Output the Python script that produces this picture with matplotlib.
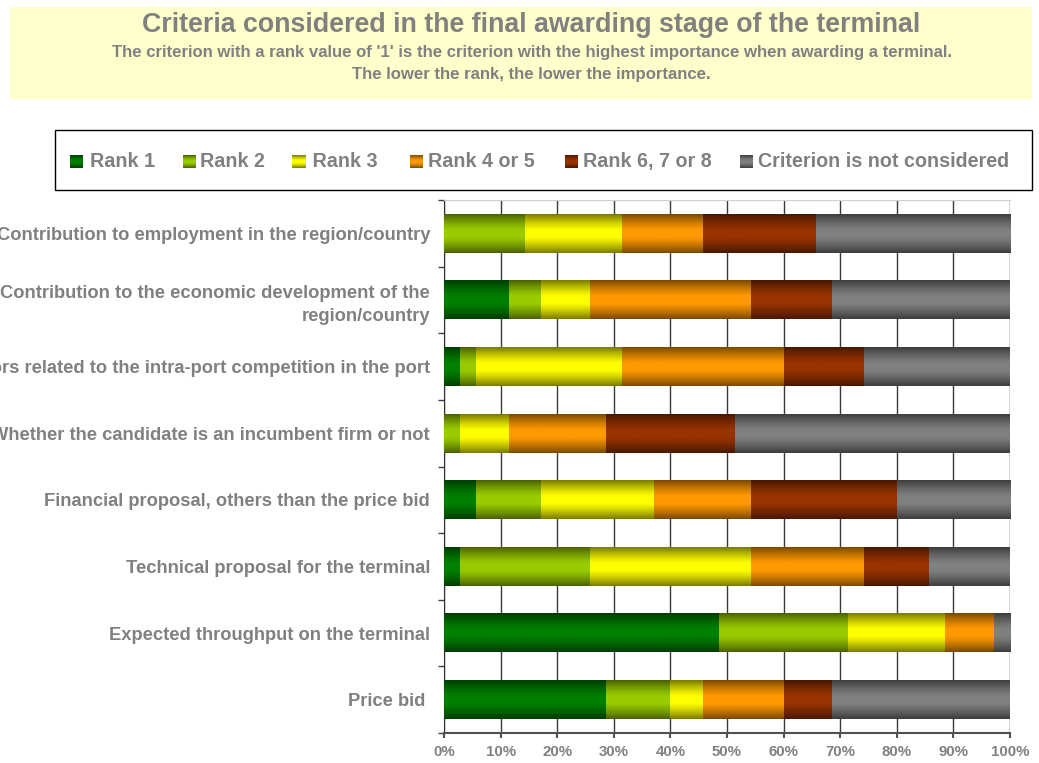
import numpy as np
import matplotlib
matplotlib.use("Agg")
import matplotlib.pyplot as plt
from matplotlib.patches import Rectangle
from matplotlib.colors import to_rgb

# Survey answers (number of respondents per rank class, 35 respondents)
criteria = [
    "Contribution to employment in the region/country",
    "Contribution to the economic development of the\nregion/country",
    "Factors related to the intra-port competition in the port",
    "Whether the candidate is an incumbent firm or not",
    "Financial proposal, others than the price bid",
    "Technical proposal for the terminal",
    "Expected throughput on the terminal",
    "Price bid ",
]
rank_1 = [0, 4, 1, 0, 2, 1, 17, 10]
rank_2 = [5, 2, 1, 1, 4, 8, 8, 4]
rank_3 = [6, 3, 9, 3, 7, 10, 6, 2]
rank_4_5 = [5, 10, 10, 6, 6, 7, 3, 5]
rank_6_8 = [7, 5, 5, 8, 9, 4, 0, 3]
not_considered = [12, 11, 9, 17, 7, 5, 1, 11]

series_names = ["Rank 1", "Rank 2", " Rank 3", "Rank 4 or 5", "Rank 6, 7 or 8",
                "Criterion is not considered"]
series_values = [rank_1, rank_2, rank_3, rank_4_5, rank_6_8, not_considered]
series_colors = ["#008000", "#99CC00", "#FFFF00", "#FF9900", "#993300", "#808080"]
x_ticks = np.arange(0, 101, 10)
x_tick_labels = [f"{v}%" for v in x_ticks]

TEXT = "#808080"
plt.rcParams["font.family"] = ["Liberation Sans", "DejaVu Sans"]
plt.rcParams["font.weight"] = "bold"

W, H = 1039, 763
fig = plt.figure(figsize=(W / 100, H / 100), dpi=100)
fig.patch.set_facecolor("white")


def fx(px):
    return px / W


def fy(py):
    return 1 - py / H


# Title banner
fig.patches.append(Rectangle((fx(10), fy(99)), fx(1022), 92 / H,
                             transform=fig.transFigure, facecolor="#FFFFCC",
                             edgecolor="none", zorder=-2))
fig.text(fx(531), fy(25), "Criteria considered in the final awarding stage of the terminal",
         ha="center", va="center", fontsize=19.3, color=TEXT, fontweight="bold")
fig.text(fx(532), fy(52),
         "The criterion with a rank value of '1' is the criterion with the highest importance when awarding a terminal.",
         ha="center", va="center", fontsize=12.05, color=TEXT, fontweight="bold")
fig.text(fx(531), fy(74), "The lower the rank, the lower the importance.",
         ha="center", va="center", fontsize=12.05, color=TEXT, fontweight="bold")

ax = fig.add_axes([fx(444), fy(733), 566 / W, 533 / H])

values = np.array(series_values, dtype=float)
pct = values / values.sum(axis=0) * 100
n = len(criteria)
y = np.arange(n)
bar_h = 0.58

# Vertical shading profile of a bar: dark at the edges, bright in the middle
t = np.linspace(-1, 1, 64)
shade = 1 - 0.52 * np.clip((np.abs(t) - 0.15) / 0.85, 0, 1) ** 1.3


def shaded(col):
    rgb = np.array(to_rgb(col))
    return shade[:, None, None] * rgb[None, None, :]


left = np.zeros(n)
for vals, col in zip(pct, series_colors):
    img = shaded(col)
    for i in range(n):
        if vals[i] <= 0:
            continue
        ax.imshow(img, extent=(left[i], left[i] + vals[i], y[i] + bar_h / 2, y[i] - bar_h / 2),
                  aspect="auto", interpolation="bilinear", zorder=3)
    left += vals

ax.set_xlim(0, 100)
ax.set_ylim(n - 0.5, -0.5)
ax.set_xticks(x_ticks)
ax.set_xticklabels(x_tick_labels)
ax.set_yticks(y)
ax.set_yticklabels(criteria, linespacing=1.45)
ax.set_yticks(np.arange(n + 1) - 0.5, minor=True)
ax.tick_params(axis="y", which="major", length=0, pad=10, labelsize=13.2, labelcolor=TEXT)
ax.tick_params(axis="y", which="minor", length=4, width=1, color="#404040", direction="out")
ax.tick_params(axis="x", which="major", length=3.5, width=1.5, color="#505050", pad=5,
               labelsize=10.8, labelcolor=TEXT)
for lab in ax.get_xticklabels() + ax.get_yticklabels():
    lab.set_fontweight("bold")

ax.grid(axis="x", color="#3a3a3a", linewidth=1, zorder=1)
ax.set_axisbelow(True)
ax.spines["right"].set_visible(False)
ax.spines["top"].set_color("#d0d0d0")
ax.spines["left"].set_color("#303030")
ax.spines["bottom"].set_color("#505050")
ax.spines["bottom"].set_linewidth(1.5)

# Legend box drawn on the figure
fig.patches.append(Rectangle((fx(55), fy(190)), fx(977), 60 / H,
                             transform=fig.transFigure, facecolor="none",
                             edgecolor="black", linewidth=1, zorder=-1))
marker_x = [70, 183, 292, 410, 565, 740]
text_x = [90, 200, 307, 428, 583, 758]
leg_baseline = 167
for mx, tx, name, col in zip(marker_x, text_x, series_names, series_colors):
    lax = fig.add_axes([fx(mx), fy(leg_baseline + 1), 13 / W, 13 / H])
    lax.imshow(shaded(col), extent=(0, 1, 0, 1), aspect="auto", interpolation="bilinear")
    lax.set_axis_off()
    fig.text(fx(tx), fy(leg_baseline), name, ha="left", va="baseline", fontsize=14.2,
             color=TEXT, fontweight="bold", zorder=3)

fig.savefig("out.png", dpi=100)
